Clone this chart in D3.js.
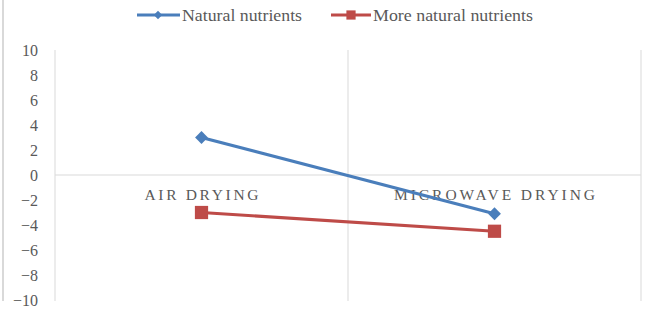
<!DOCTYPE html>
<html><head><meta charset="utf-8">
<script src="https://cdn.jsdelivr.net/npm/d3@7"></script>
<style>body{margin:0;background:#fff}svg{display:block}</style>
</head><body>
<svg id="c" width="652" height="309"></svg>
<script>
const categories = ["AIR DRYING", "MICROWAVE DRYING"];
const seriesNames = ["Natural nutrients", "More natural nutrients"];
const naturalNutrients = [3, -3.1];
const moreNaturalNutrients = [-3, -4.5];
const yTicks = [10, 8, 6, 4, 2, 0, -2, -4, -6, -8, -10];

const svg = d3.select("#c");
const L = 55, R = 641, T = 50, B = 300;
const FONT = '"Liberation Serif"';
const colors = ["#4a7ebb", "#be4b48"];

svg.append("line").attr("x1",3).attr("x2",3).attr("y1",0).attr("y2",301)
  .attr("stroke","#d9d9d9").attr("stroke-width",2);

const x = d3.scaleBand().domain(categories).range([L, R]).padding(0);
const y = d3.scaleLinear().domain([-10, 10]).range([B, T]);

const edges = [L, ...categories.map(c => x(c) + x.bandwidth())];
svg.selectAll(".vg").data(edges).enter().append("line")
  .attr("x1", d => d).attr("x2", d => d).attr("y1", T).attr("y2", B + 1)
  .attr("stroke", "#d9d9d9").attr("stroke-width", 1);

svg.append("line").attr("x1", L).attr("x2", R).attr("y1", y(0)).attr("y2", y(0))
  .attr("stroke", "#d9d9d9").attr("stroke-width", 1.2);

const yAxis = d3.axisLeft(y).tickValues(yTicks).tickSize(0).tickPadding(0);
const gy = svg.append("g").attr("transform", `translate(38,0.5)`).call(yAxis);
gy.select(".domain").remove();
gy.selectAll("text").style("font-family", FONT).style("font-size", "16px").attr("fill", "#595959");

const catWidths = [114, 201];
svg.selectAll(".cat").data(categories).enter().append("text")
  .attr("x", d => x(d) + x.bandwidth() / 2).attr("y", y(0) + 24.5)
  .attr("text-anchor", "middle").style("font-family", FONT).style("font-size", "15.5px")
  .attr("textLength", (d, i) => catWidths[i]).attr("lengthAdjust", "spacing")
  .attr("fill", "#595959").text(d => d);

const cx = c => x(c) + x.bandwidth() / 2;
const line = d3.line().x((d, i) => cx(categories[i])).y(d => y(d));
const series = [naturalNutrients, moreNaturalNutrients];
const diamond = d3.symbol().type(d3.symbolDiamond2).size(105);
const square = d3.symbol().type(d3.symbolSquare).size(175);

series.forEach((s, k) => {
  svg.append("path").datum(s).attr("d", line).attr("fill", "none")
    .attr("stroke", colors[k]).attr("stroke-width", 3.2);
  svg.selectAll(".m" + k).data(s).enter().append("path")
    .attr("transform", (d, i) => `translate(${cx(categories[i])},${y(d)})`)
    .attr("d", k === 0 ? diamond : square).attr("fill", colors[k]);
});

const legX = [137, 331];
const legW = [120, 160];
seriesNames.forEach((n, k) => {
  const g = svg.append("g").attr("transform", `translate(${legX[k]},15)`);
  g.append("line").attr("x1", 0).attr("x2", k === 0 ? 43 : 40).attr("y1", 0).attr("y2", 0)
    .attr("stroke", colors[k]).attr("stroke-width", 3.2);
  g.append("path").attr("d", k === 0 ? d3.symbol().type(d3.symbolDiamond2).size(45)() : d3.symbol().type(d3.symbolSquare).size(85)())
    .attr("transform", `translate(${k === 0 ? 21 : 20},0)`).attr("fill", colors[k]);
  g.append("text").attr("x", k === 0 ? 45 : 42).attr("y", 6)
    .style("font-family", FONT).style("font-size", "16.5px")
    .attr("textLength", legW[k]).attr("lengthAdjust", "spacingAndGlyphs")
    .attr("fill", "#595959").text(n);
});
</script>
</body></html>
